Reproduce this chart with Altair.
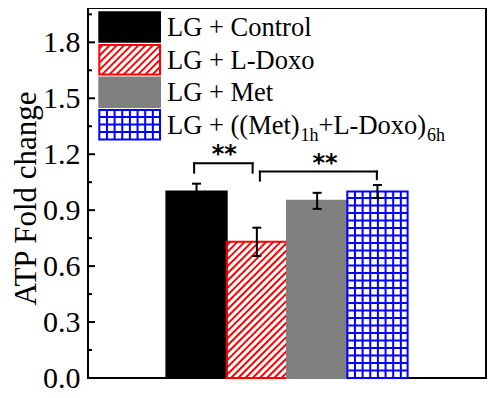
import altair as alt
import pandas as pd

# ---------------- data ----------------
groups = ["LG + Control", "LG + L-Doxo", "LG + Met", "LG + ((Met)1h+L-Doxo)6h"]
positions = [1, 2, 3, 4]
means = [1.00, 0.73, 0.95, 1.00]
errors = [0.042, 0.076, 0.043, 0.035]
bar_fill = ["#000000", "#ffffff", "#808080", "#ffffff"]
bar_stroke = ["#000000", "#ff0000", "#808080", "#0000ff"]
bar_pattern = ["none", "hatch", "none", "grid"]

# 4th legend label split into (text, is_subscript)
label4_parts = [("LG + ((Met)", False), ("1h", True), ("+L-Doxo)", False), ("6h", True)]

# significance brackets: left x, right x, top y, left-leg bottom, right-leg bottom
sig_left = [0.96, 2.05]
sig_right = [1.93, 3.99]
sig_top = [1.151, 1.107]
sig_leg_left = [1.101, 1.058]
sig_leg_right = [1.101, 1.066]
sig_text = ["**", "**"]
sig_text_x = [1.46, 3.13]
sig_text_y = [1.156, 1.110]

y_ticks = [0.0, 0.3, 0.6, 0.9, 1.2, 1.5, 1.8]
y_minor = [0.15, 0.45, 0.75, 1.05, 1.35, 1.65, 1.95]

# ---------------- layout ----------------
W, H = 398, 370
XMIN, XMAX = -0.8, 5.8
YMAX = 1.984
SX = W / (XMAX - XMIN)
SY = H / YMAX
LEFT_ABS, TOP_ABS = 88, 8
SERIF = "Times New Roman, Liberation Serif, serif"
LEG_FS, SUB_FS = 26.5, 18
# Times advance widths (em) for the legend characters
TW = {"L": .611, "G": .722, " ": .25, "+": .564, "(": .333, ")": .333, "M": .889,
      "e": .444, "t": .278, "1": .5, "h": .5, "-": .333, "D": .722, "o": .5,
      "x": .5, "6": .5}


def text_width(s, fs):
    return sum(TW.get(c, .5) for c in s) * fs


def dx(px):  # plot-relative pixel -> data x
    return XMIN + px / SX


def dy(py):  # plot-relative pixel -> data y
    return YMAX - py / SY


def diag_segments(l, t, r, b, s):
    segs = []
    c = l + t + s * 0.5
    while c < r + b:
        xa = max(l, c - b)
        xb = min(r, c - t)
        if xb > xa:
            segs.append((xa, c - xa, xb, c - xb))
        c += s
    return segs


def grid_segments(l, t, r, b, sxp, syp):
    segs = []
    x = l + sxp
    while x < r - 1:
        segs.append((x, t, x, b))
        x += sxp
    y = b - syp
    while y > t + 1:
        segs.append((l, y, r, y))
        y -= syp
    return segs


def pattern_rows(kind, l, t, r, b, color):
    if kind == "hatch":
        segs = diag_segments(l, t, r, b, 7.2)
    elif kind == "grid":
        segs = grid_segments(l, t, r, b, 7.65, 7.5)
    else:
        segs = []
    return [dict(x=dx(a), y=dy(bb), x2=dx(c), y2=dy(d), color=color) for a, bb, c, d in segs]


YAX = alt.Axis(values=y_ticks, format=".1f", labelFont=SERIF, labelFontSize=30,
               labelColor="black", ticks=False, domain=False, grid=False,
               labelPadding=8, title="ATP Fold change", titleFont=SERIF,
               titleFontSize=31, titleFontWeight="normal", titleColor="black",
               titlePadding=0, titleY=190)
XS = alt.Scale(domain=[XMIN, XMAX], nice=False, zero=False)
YS = alt.Scale(domain=[0, YMAX], nice=False, zero=False)


def X(f):
    return alt.X(f, type="quantitative", scale=XS, axis=None)


def Y(f):
    return alt.Y(f, type="quantitative", scale=YS, axis=YAX)


# ---------------- bars ----------------
bar_rows = []
pat_rows = []
for p, m, kind, fc, sc in zip(positions, means, bar_pattern, bar_fill, bar_stroke):
    bar_rows.append(dict(x0=p - 0.5, x1=p + 0.5, y0=0.0, y1=m, fill=fc, stroke=sc))
    l = (p - 0.5 - XMIN) * SX
    r = (p + 0.5 - XMIN) * SX
    t = (YMAX - m) * SY
    pat_rows += pattern_rows(kind, l, t, r, H, sc)

# legend swatches (plot-relative pixels)
sw_l, sw_r = 11.3, 72.0
for i in range(4):
    t = 4.3 + 32.6 * i
    b = t + 29.5
    bar_rows.append(dict(x0=dx(sw_l), x1=dx(sw_r), y0=dy(b), y1=dy(t),
                         fill=bar_fill[i], stroke=bar_stroke[i]))
    pat_rows += pattern_rows(bar_pattern[i], sw_l, t, sw_r, b, bar_stroke[i])
rects = pd.DataFrame(bar_rows)
patterns = pd.DataFrame(pat_rows)

# legend text
txt_x = 79.0
txt_rows = []
for i in range(3):
    txt_rows.append(dict(text=groups[i], x=dx(txt_x), y=dy(28 + 32.6 * i), size=LEG_FS))
base4 = 28 + 32.6 * 3
cx = txt_x
for s, sub in label4_parts:
    fs = SUB_FS if sub else LEG_FS
    txt_rows.append(dict(text=s, x=dx(cx + (0.8 if sub else 0)),
                         y=dy(base4 + (7 if sub else 0)), size=fs))
    cx += text_width(s, fs) + (0.8 if sub else 0)
legend_txt = pd.DataFrame(txt_rows)

# error bars
err = pd.DataFrame({
    "x": positions, "lo": [m - e for m, e in zip(means, errors)],
    "hi": [m + e for m, e in zip(means, errors)],
    "xl": [p - 4.5 / SX for p in positions], "xr": [p + 4.5 / SX for p in positions],
})

# brackets
br_rows = []
for l, r, tp, ll, lr in zip(sig_left, sig_right, sig_top, sig_leg_left, sig_leg_right):
    br_rows += [dict(x=l, y=tp, x2=r, y2=tp), dict(x=l, y=tp, x2=l, y2=ll),
                dict(x=r, y=tp, x2=r, y2=lr)]
brackets = pd.DataFrame(br_rows)
stars = pd.DataFrame({"text": sig_text, "x": sig_text_x, "y": sig_text_y})

# inward ticks
ticks = pd.DataFrame(
    [dict(x=XMIN, x2=XMIN + 7 / SX, y=v) for v in y_ticks] +
    [dict(x=XMIN, x2=XMIN + 4 / SX, y=v) for v in y_minor]
)

# ---------------- layers ----------------
fill_layer = alt.Chart(rects).mark_rect(strokeWidth=0).encode(
    x=X("x0"), x2="x1", y=Y("y0"), y2="y1",
    fill=alt.Fill("fill:N", scale=None))
pattern_layer = alt.Chart(patterns).mark_rule(strokeWidth=2).encode(
    x=X("x"), y=Y("y"), x2="x2", y2="y2", color=alt.Color("color:N", scale=None))
outline_layer = alt.Chart(rects).mark_rect(fillOpacity=0, strokeWidth=2).encode(
    x=X("x0"), x2="x1", y=Y("y0"), y2="y1",
    stroke=alt.Stroke("stroke:N", scale=None))

err_v = alt.Chart(err).mark_rule(color="black", strokeWidth=2).encode(
    x=X("x"), y=Y("lo"), y2="hi")
err_top = alt.Chart(err).mark_rule(color="black", strokeWidth=2).encode(
    x=X("xl"), x2="xr", y=Y("hi"))
err_bot = alt.Chart(err).mark_rule(color="black", strokeWidth=2).encode(
    x=X("xl"), x2="xr", y=Y("lo"))

br_layer = alt.Chart(brackets).mark_rule(color="black", strokeWidth=2, strokeCap="square").encode(
    x=X("x"), y=Y("y"), x2="x2", y2="y2")
star_layer = alt.Chart(stars).mark_text(font="DejaVu Sans", fontWeight="bold", fontSize=24,
                                         align="center", baseline="alphabetic",
                                         color="black").encode(
    x=X("x"), y=Y("y"), text="text:N")

leg_text = alt.Chart(legend_txt).mark_text(font=SERIF, align="left", baseline="alphabetic",
                                           color="black").encode(
    x=X("x"), y=Y("y"), text="text:N", size=alt.Size("size:Q", scale=None))

tick_layer = alt.Chart(ticks).mark_rule(color="black", strokeWidth=2).encode(
    x=X("x"), x2="x2", y=Y("y"))

chart = alt.layer(
    fill_layer, pattern_layer, outline_layer, err_v, err_top, err_bot,
    br_layer, star_layer, leg_text, tick_layer
).properties(
    width=W, height=H, background="white",
    padding={"left": 80, "top": 0, "right": 2, "bottom": 20},
    autosize=alt.AutoSizeParams(type="none"),
).configure_view(stroke="black", strokeWidth=2)

chart.save("out.html", embed_options={"renderer": "svg", "actions": False})
